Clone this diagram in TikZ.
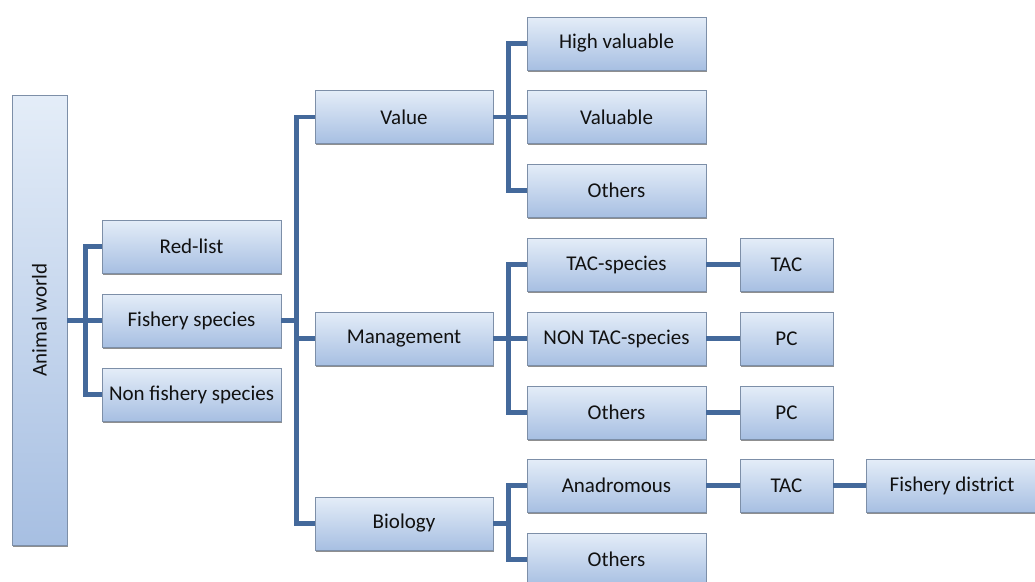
\documentclass[tikz,border=0pt]{standalone}
\usepackage{fontspec}
\setmainfont{Carlito}
\usetikzlibrary{shadows}
\definecolor{linkblue}{HTML}{44699B}
\definecolor{boxtop}{HTML}{E4EDF8}
\definecolor{boxbot}{HTML}{A7BFE2}
\definecolor{boxline}{HTML}{7D8FA8}
\definecolor{txt}{HTML}{111111}
\tikzset{
  box/.style={rectangle, draw=boxline, line width=0.8pt, top color=boxtop, bottom color=boxbot,
    inner sep=0pt, minimum height=53pt, text=txt, font=\fontsize{21}{25}\selectfont,
    drop shadow={shadow xshift=0.8pt, shadow yshift=-1.6pt, fill=black!55, opacity=0.8}},
  boxA/.style={box, minimum width=179pt},
  boxB/.style={box, minimum width=178pt},
  boxT/.style={box, minimum width=93pt},
  boxF/.style={box, minimum width=172pt},
  link/.style={draw=linkblue, line width=4.5pt, line join=miter}
}
\begin{document}
\begin{tikzpicture}[x=1pt,y=-1pt]
\useasboundingbox (0,0) rectangle (1035,581);
% root
\node[box, minimum width=55pt, minimum height=450pt] (aw) at (39.5,320) {};
\node[rotate=90, text=txt, font=\fontsize{21}{25}\selectfont] (awt) at (aw.center) {Animal world};
% level 1
\node[boxA] (red) at (191.5,246.5) {Red-list};
\node[boxA] (fish) at (191.5,320.5) {Fishery species};
\node[boxA] (nonfish) at (191.5,394.5) {Non fishery species};
% level 2
\node[boxB] (value) at (404,117) {Value};
\node[boxB] (mgmt) at (404,338.5) {Management};
\node[boxB] (bio) at (404,523.5) {Biology};
% level 3
\node[boxA] (hv) at (616.5,43.5) {High valuable};
\node[boxA] (valuable) at (616.5,117) {Valuable};
\node[boxA] (oth1) at (616.5,190.5) {Others};
\node[boxA] (tacs) at (616.5,264.5) {TAC-species};
\node[boxA] (nontac) at (616.5,338.5) {NON TAC-species};
\node[boxA] (oth2) at (616.5,412.5) {Others};
\node[boxA] (anad) at (616.5,485.5) {Anadromous};
\node[boxA] (oth3) at (616.5,559.5) {Others};
% level 4
\node[boxT] (tac1) at (786.5,264.5) {TAC};
\node[boxT] (pc1) at (786.5,338.5) {PC};
\node[boxT] (pc2) at (786.5,412.5) {PC};
\node[boxT] (tac2) at (786.5,485.5) {TAC};
\node[boxF] (fd) at (952,485.5) {Fishery district};
% connectors
\draw[link] (aw.east |- fish.west) -- (fish.west);
\draw[link] (red.west) -- ++(-16,0) |- (nonfish.west);
\draw[link] (fish.east) -- ([xshift=-18pt]value.west |- fish.east);
\draw[link] (value.west) -- ++(-18,0) |- (bio.west);
\draw[link] (mgmt.west) -- ++(-18,0);
\draw[link] (value.east) -- (valuable.west);
\draw[link] (hv.west) -- ++(-18,0) |- (oth1.west);
\draw[link] (mgmt.east) -- (nontac.west);
\draw[link] (tacs.west) -- ++(-18,0) |- (oth2.west);
\draw[link] (bio.east) -- ([xshift=-18pt]anad.west |- bio.east);
\draw[link] (anad.west) -- ++(-18,0) |- (oth3.west);
\draw[link] (tacs.east) -- (tac1.west);
\draw[link] (nontac.east) -- (pc1.west);
\draw[link] (oth2.east) -- (pc2.west);
\draw[link] (anad.east) -- (tac2.west);
\draw[link] (tac2.east) -- (fd.west);
\end{tikzpicture}
\end{document}
